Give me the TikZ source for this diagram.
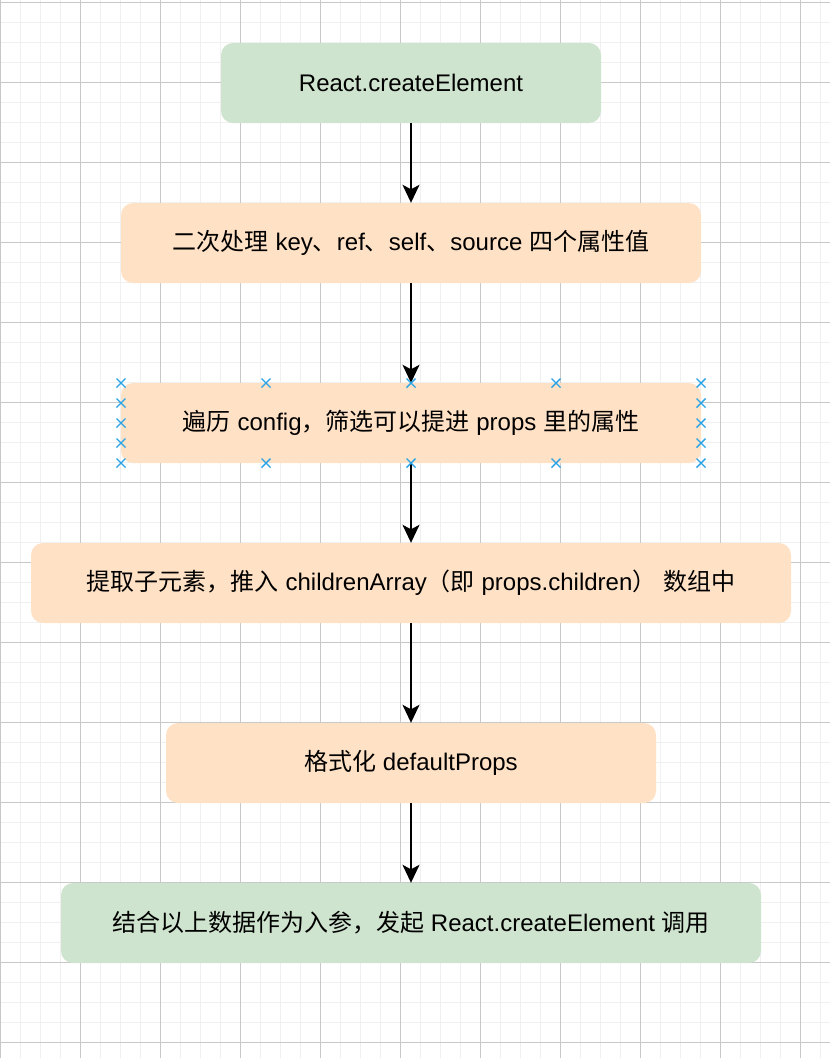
\documentclass[tikz,border=0pt]{standalone}
\usepackage{fontspec}
\setmainfont{Liberation Sans}
\newfontfamily\cjk{Noto Sans CJK SC}
\usetikzlibrary{arrows.meta}
\newcommand{\zh}[1]{{\cjk #1}}

\definecolor{gridminor}{HTML}{F0F0F0}
\definecolor{gridmajor}{HTML}{C8C8C8}
\definecolor{boxgreen}{HTML}{CFE4CE}
\definecolor{boxorange}{HTML}{FFE1C5}
\definecolor{handleblue}{HTML}{29A3E6}

\tikzset{
  minorline/.style={draw=gridminor, line width=1pt},
  majorline/.style={draw=gridmajor, line width=1pt},
  stepbox/.style={rounded corners=12pt, inner sep=0pt, minimum height=80pt,
    font=\fontsize{24}{28}\selectfont, text=black},
  greenbox/.style={stepbox, fill=boxgreen},
  orangebox/.style={stepbox, fill=boxorange},
  flow/.style={line width=1.8pt, -{Stealth[length=18pt, width=17pt, inset=4.5pt]}},
  handle/.style={draw=handleblue, line width=1.4pt}
}

\begin{document}
\begin{tikzpicture}[x=1pt, y=-1pt]
  \useasboundingbox (0,0) rectangle (830,1058);
  \fill[white] (0,0) rectangle (830,1058);

  % background grid: fine lines every 20, heavier lines every 80
  \foreach \x in {0,20,...,820} \draw[minorline] (\x+0.5,0) -- (\x+0.5,1058);
  \foreach \y in {2,22,...,1042} \draw[minorline] (0,\y) -- (830,\y);
  \foreach \x in {0,80,...,800} \draw[majorline] (\x+0.5,0) -- (\x+0.5,1058);
  \foreach \y in {2,82,...,1042} \draw[majorline] (0,\y) -- (830,\y);

  % steps
  \node[greenbox, minimum width=380pt] (b1) at (411,83) {React.createElement};
  \node[orangebox, minimum width=580pt] (b2) at (411,243)
    {\zh{二次处理} key\zh{、}ref\zh{、}self\zh{、}source \zh{四个属性值}};
  \node[orangebox, minimum width=580pt] (b3) at (411,423)
    {\zh{遍历} config\zh{，筛选可以提进} props \zh{里的属性}};
  \node[orangebox, minimum width=760pt] (b4) at (411,583)
    {\zh{提取子元素，推入} childrenArray\zh{（即} props.children\zh{）} \zh{数组中}};
  \node[orangebox, minimum width=490pt] (b5) at (411,763)
    {\zh{格式化} defaultProps};
  \node[greenbox, minimum width=700pt] (b6) at (411,923)
    {\zh{结合以上数据作为入参，发起} React.createElement \zh{调用}};

  % connectors
  \draw[flow] (b1.south) -- (b2.north);
  \draw[flow] (b2.south) -- (b3.north);
  \draw[flow] (b3.south) -- (b4.north);
  \draw[flow] (b4.south) -- (b5.north);
  \draw[flow] (b5.south) -- (b6.north);

  % selection handles around the third step
  \foreach \hx/\hy in {121/383,121/403,121/423,121/443,121/463,
                       701/383,701/403,701/423,701/443,701/463,
                       266/383,411/383,556/383,266/463,411/463,556/463}
    \draw[handle] (\hx-4.5,\hy-4.5) -- (\hx+4.5,\hy+4.5)
                  (\hx-4.5,\hy+4.5) -- (\hx+4.5,\hy-4.5);
\end{tikzpicture}
\end{document}
